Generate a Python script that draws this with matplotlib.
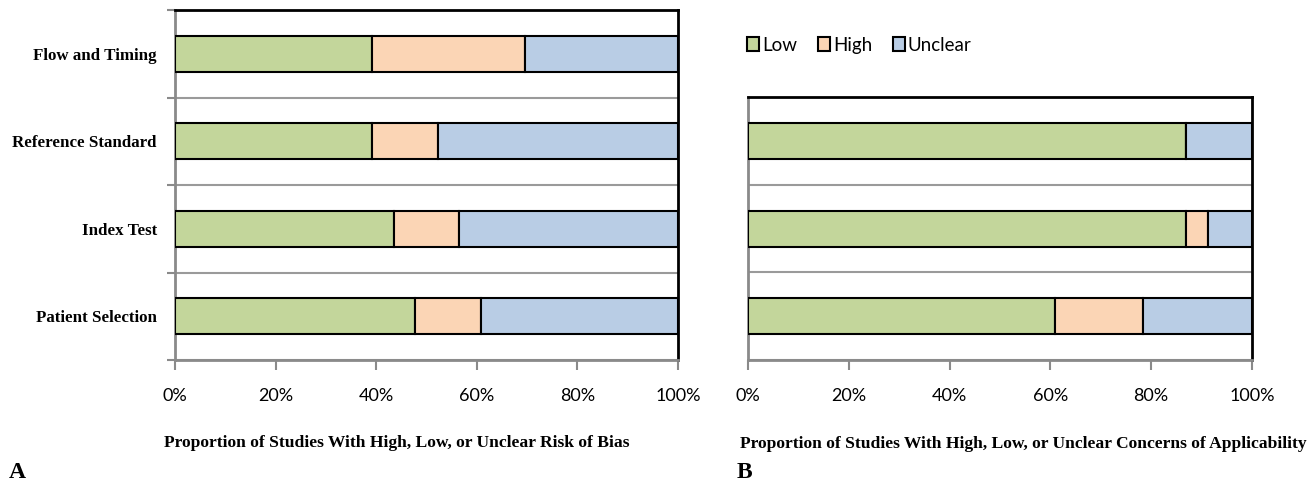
import numpy as np
import matplotlib.pyplot as plt
from matplotlib.patches import Patch

# QUADAS-2 summary, bottom-to-top order on the y axis
bias_domains = ["Patient Selection", "Index Test", "Reference Standard", "Flow and Timing"]
bias_low = [47.8, 43.5, 39.1, 39.1]
bias_high = [13.0, 13.0, 13.1, 30.5]
bias_unclear = [39.2, 43.5, 47.8, 30.4]

appl_domains = ["Patient Selection", "Index Test", "Reference Standard"]
appl_low = [60.9, 87.0, 87.0]
appl_high = [17.4, 4.3, 0.0]
appl_unclear = [21.7, 8.7, 13.0]

x_ticks = [0, 20, 40, 60, 80, 100]
x_ticklabels = ["0%", "20%", "40%", "60%", "80%", "100%"]
series_names = ["Low", "High", "Unclear"]
colors = ["#C3D69B", "#FBD5B5", "#B9CDE5"]

serif = "Liberation Serif"
sans = "Lato"
grey = "#8a8a8a"


def stacked_panel(ax, domains, low, high, unclear, show_labels):
    y = np.arange(len(domains))
    left = np.zeros(len(domains))
    for vals, col in zip([low, high, unclear], colors):
        vals = np.array(vals)
        ax.barh(y, vals, left=left, height=0.41, color=col,
                edgecolor="black", linewidth=1.5, zorder=3)
        left += vals
    ax.set_xlim(0, 100)
    ax.set_ylim(-0.5, len(domains) - 0.5)
    ax.set_xticks(x_ticks)
    ax.set_xticklabels(x_ticklabels, fontsize=13, family=sans)
    ax.tick_params(axis="x", length=7, width=1.5, color=grey, pad=13)
    # category boundaries get grey separators
    ax.set_yticks(np.arange(len(domains) + 1) - 0.5, minor=True)
    ax.set_yticks(y)
    if show_labels:
        ax.set_yticklabels(domains, fontsize=12.2, family=serif, fontweight="bold")
        ax.tick_params(axis="y", which="minor", length=6, width=1.5, color=grey)
    else:
        ax.set_yticklabels([])
        ax.tick_params(axis="y", which="minor", length=0)
    ax.tick_params(axis="y", which="major", length=0, pad=13)
    ax.grid(axis="y", which="minor", color="#9a9a9a", linewidth=1.5, zorder=1)
    for side in ["left", "bottom"]:
        ax.spines[side].set_color(grey)
        ax.spines[side].set_linewidth(2)
    for side in ["top", "right"]:
        ax.spines[side].set_color("black")
        ax.spines[side].set_linewidth(2)


fig = plt.figure(figsize=(13.09, 4.86), dpi=100)
ax_a = fig.add_axes([0.1337, 0.259, 0.3843, 0.720])
ax_b = fig.add_axes([0.5714, 0.259, 0.3850, 0.5412])

stacked_panel(ax_a, bias_domains, bias_low, bias_high, bias_unclear, True)
stacked_panel(ax_b, appl_domains, appl_low, appl_high, appl_unclear, False)

ax_a.set_xlabel("Proportion of Studies With High, Low, or Unclear Risk of Bias",
                fontsize=12.6, family=serif, fontweight="bold")
ax_a.xaxis.set_label_coords(0.44, -0.215)
ax_b.set_xlabel("Proportion of Studies With High, Low, or Unclear Concerns of Applicability",
                fontsize=12.6, family=serif, fontweight="bold")
ax_b.xaxis.set_label_coords(0.546, -0.287)

handles = [Patch(facecolor=c, edgecolor="black", linewidth=1.5) for c in colors]
fig.legend(handles, series_names, loc="center left", bbox_to_anchor=(0.558, 0.907),
           ncol=3, frameon=False, prop={"family": sans, "size": 13.5},
           handlelength=0.65, handleheight=0.8, handletextpad=0.15, columnspacing=1.1)

fig.text(0.007, 0.016, "A", fontsize=17, family=serif, fontweight="bold")
fig.text(0.563, 0.016, "B", fontsize=17, family=serif, fontweight="bold")

fig.savefig("out.png", dpi=100)
